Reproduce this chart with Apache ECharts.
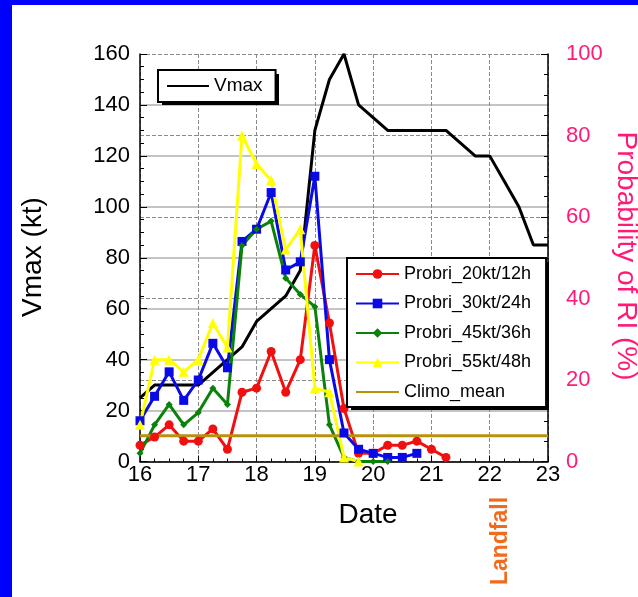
<!doctype html>
<html>
<head>
    <meta charset="utf-8">
    <title>Vmax and RI probability</title>
    <script type="text/javascript" src="https://cdn.jsdelivr.net/npm/echarts@6/dist/echarts.min.js"></script>
    <style>
        html, body { margin: 0; padding: 0; background: #fff; }
        #container { width: 638px; height: 597px; }
    </style>
</head>
<body>
<div id="container"></div>
<script type="text/javascript">
    // 6-hourly times (day of month)
    var vmaxTimes = [16, 16.25, 16.5, 16.75, 17, 17.25, 17.5, 17.75, 18, 18.25, 18.5, 18.75, 19, 19.25, 19.5, 19.75,
        20, 20.25, 20.5, 20.75, 21, 21.25, 21.5, 21.75, 22, 22.25, 22.5, 22.75, 23];
    var vmax = [25, 30, 30, 30, 30, 35, 40, 45, 55, 60, 65, 75, 130, 150, 160, 140,
        135, 130, 130, 130, 130, 130, 125, 120, 120, 110, 100, 85, 85];

    var probTimes = [16, 16.25, 16.5, 16.75, 17, 17.25, 17.5, 17.75, 18, 18.25, 18.5, 18.75, 19, 19.25, 19.5, 19.75,
        20, 20.25, 20.5, 20.75, 21, 21.25];
    // probability of RI (%)
    var p20kt12h = [4, 6, 9, 5, 5, 8, 3, 17, 18, 27, 17, 25, 53, 34, 13, 2, 2, 4, 4, 5, 3, 1];
    var p30kt24h = [10, 16, 22, 15, 20, 29, 23, 54, 57, 66, 47, 49, 70, 25, 7, 3, 2, 1, 1, 2];
    var p45kt36h = [2, 9, 14, 9, 12, 18, 14, 53, 57, 59, 45, 41, 38, 9, 1, 0, 0, 0];
    var p55kt48h = [9, 25, 25, 22, 25, 34, 28, 80, 73, 69, 52, 57, 18, 17, 1, 0];

    var climoTimes = [16, 23];
    var climoMean = [6.3, 6.3];

    var xTicks = [16, 17, 18, 19, 20, 21, 22, 23];

    var font = '"Liberation Sans", Arial, Helvetica, sans-serif';
    var pink = '#ff1a78';

    function pairs(xs, ys) {
        var out = [];
        for (var i = 0; i < ys.length; i++) {
            out.push([xs[i], ys[i]]);
        }
        return out;
    }

    function probSeries(name, ys, color, symbol, size) {
        return {
            name: name,
            type: 'line',
            yAxisIndex: 1,
            data: pairs(probTimes, ys),
            symbol: symbol,
            symbolSize: size,
            showAllSymbol: true,
            itemStyle: {color: color},
            lineStyle: {color: color, width: 3},
            emphasis: {disabled: true}
        };
    }

    // line-only legend entries (no marker)
    var noMarker = {color: 'rgba(0,0,0,0)', borderWidth: 0, opacity: 0};

    var myChart = echarts.init(document.getElementById('container'), null, {renderer: 'canvas'});

    var option = {
        backgroundColor: '#ffffff',
        animation: false,
        textStyle: {fontFamily: font},
        grid: {left: 140, right: 90, top: 54, bottom: 135.5},
        legend: [
            {
                data: [{name: 'Vmax', itemStyle: noMarker}],
                left: 158, top: 70,
                itemWidth: 42, itemHeight: 12, itemGap: 5,
                padding: [6, 13, 6, 8],
                backgroundColor: '#fff',
                borderColor: '#000', borderWidth: 2,
                textStyle: {fontSize: 19, color: '#000', fontFamily: font, lineHeight: 20},
                selectedMode: false
            },
            {
                data: ['Probri_20kt/12h', 'Probri_30kt/24h', 'Probri_45kt/36h', 'Probri_55kt/48h',
                    {name: 'Climo_mean', itemStyle: noMarker}],
                orient: 'vertical',
                left: 347, top: 258,
                itemWidth: 43, itemHeight: 12, itemGap: 9.5,
                padding: [6, 15, 5, 8],
                backgroundColor: '#fff',
                borderColor: '#000', borderWidth: 2,
                textStyle: {fontSize: 18, color: '#000', fontFamily: font, lineHeight: 20},
                selectedMode: false
            }
        ],
        xAxis: {
            type: 'value',
            min: xTicks[0], max: xTicks[xTicks.length - 1], interval: 1,
            axisLine: {lineStyle: {color: '#000', width: 1.5}},
            axisTick: {inside: true, length: 6, lineStyle: {color: '#000', width: 1}},
            minorTick: {show: true, splitNumber: 4, length: 3, lineStyle: {color: '#000'}},
            axisLabel: {fontSize: 22, color: '#000', margin: 2, fontFamily: font},
            splitLine: {show: true, lineStyle: {color: '#8a8a8a', type: [4, 2], width: 1}}
        },
        yAxis: [
            {
                type: 'value', position: 'left',
                min: 0, max: 160, interval: 20,
                axisLine: {show: true, lineStyle: {color: '#000', width: 1.5}},
                axisTick: {show: true, inside: true, length: 7, lineStyle: {color: '#000'}},
                minorTick: {show: true, splitNumber: 4, length: 4, lineStyle: {color: '#000'}},
                axisLabel: {fontSize: 22, color: '#000', margin: 10, fontFamily: font},
                splitLine: {show: true, showMaxLine: false, lineStyle: {color: '#c4c4c4', width: 2, type: 'solid'}}
            },
            {
                type: 'value', position: 'right',
                min: 0, max: 100, interval: 20,
                axisLine: {show: true, lineStyle: {color: '#000', width: 1.5}},
                axisTick: {show: true, inside: true, length: 7, lineStyle: {color: '#000'}},
                minorTick: {show: true, splitNumber: 4, length: 4, lineStyle: {color: '#000'}},
                axisLabel: {fontSize: 22, color: pink, margin: 18, fontFamily: font, padding: [0, 0, 8, 0]},
                splitLine: {show: true, lineStyle: {color: '#8a8a8a', width: 1, type: [4, 2]}}
            }
        ],
        graphic: [
            {type: 'rect', shape: {x: 0, y: 0, width: 12, height: 597}, style: {fill: '#0000ff'}, z: 100},
            {type: 'rect', shape: {x: 0, y: 0, width: 638, height: 5}, style: {fill: '#0000ff'}, z: 100},
            // drop shadows behind the two legend boxes
            {type: 'rect', shape: {x: 162, y: 74, width: 117, height: 31}, style: {fill: '#000'}, z: 3},
            {type: 'rect', shape: {x: 351, y: 262, width: 198, height: 148}, style: {fill: '#000'}, z: 3},
            {
                type: 'text', x: 33, y: 257, rotation: Math.PI / 2,
                style: {text: 'Vmax (kt)', fontSize: 28, fontFamily: font, fill: '#000', align: 'center', verticalAlign: 'middle'}
            },
            {
                type: 'text', x: 626, y: 256, rotation: -Math.PI / 2,
                style: {text: 'Probability of RI (%)', fontSize: 28, fontFamily: font, fill: pink, align: 'center', verticalAlign: 'middle'}
            },
            {
                type: 'text', x: 368, y: 515,
                style: {text: 'Date', fontSize: 28, fontFamily: font, fill: '#000', align: 'center', verticalAlign: 'middle'}
            },
            {
                type: 'text', x: 501, y: 541, rotation: Math.PI / 2,
                style: {text: 'Landfall', fontSize: 23, fontWeight: 'bold', fontFamily: font, fill: '#f26b1d', align: 'center', verticalAlign: 'middle'}
            }
        ],
        series: [
            {
                name: 'Vmax',
                type: 'line',
                yAxisIndex: 0,
                data: pairs(vmaxTimes, vmax),
                symbol: 'none',
                itemStyle: {color: '#000'},
                lineStyle: {color: '#000', width: 3},
                emphasis: {disabled: true}
            },
            probSeries('Probri_20kt/12h', p20kt12h, '#f01010', 'circle', 9),
            probSeries('Probri_30kt/24h', p30kt24h, '#0a0ae6', 'rect', 9),
            probSeries('Probri_45kt/36h', p45kt36h, '#0a820a', 'diamond', 7),
            probSeries('Probri_55kt/48h', p55kt48h, '#ffff00', 'triangle', 10),
            {
                name: 'Climo_mean',
                type: 'line',
                yAxisIndex: 1,
                data: pairs(climoTimes, climoMean),
                symbol: 'none',
                itemStyle: {color: '#b8920c'},
                lineStyle: {color: '#b8920c', width: 3},
                emphasis: {disabled: true}
            }
        ]
    };

    myChart.setOption(option);
</script>
</body>
</html>
